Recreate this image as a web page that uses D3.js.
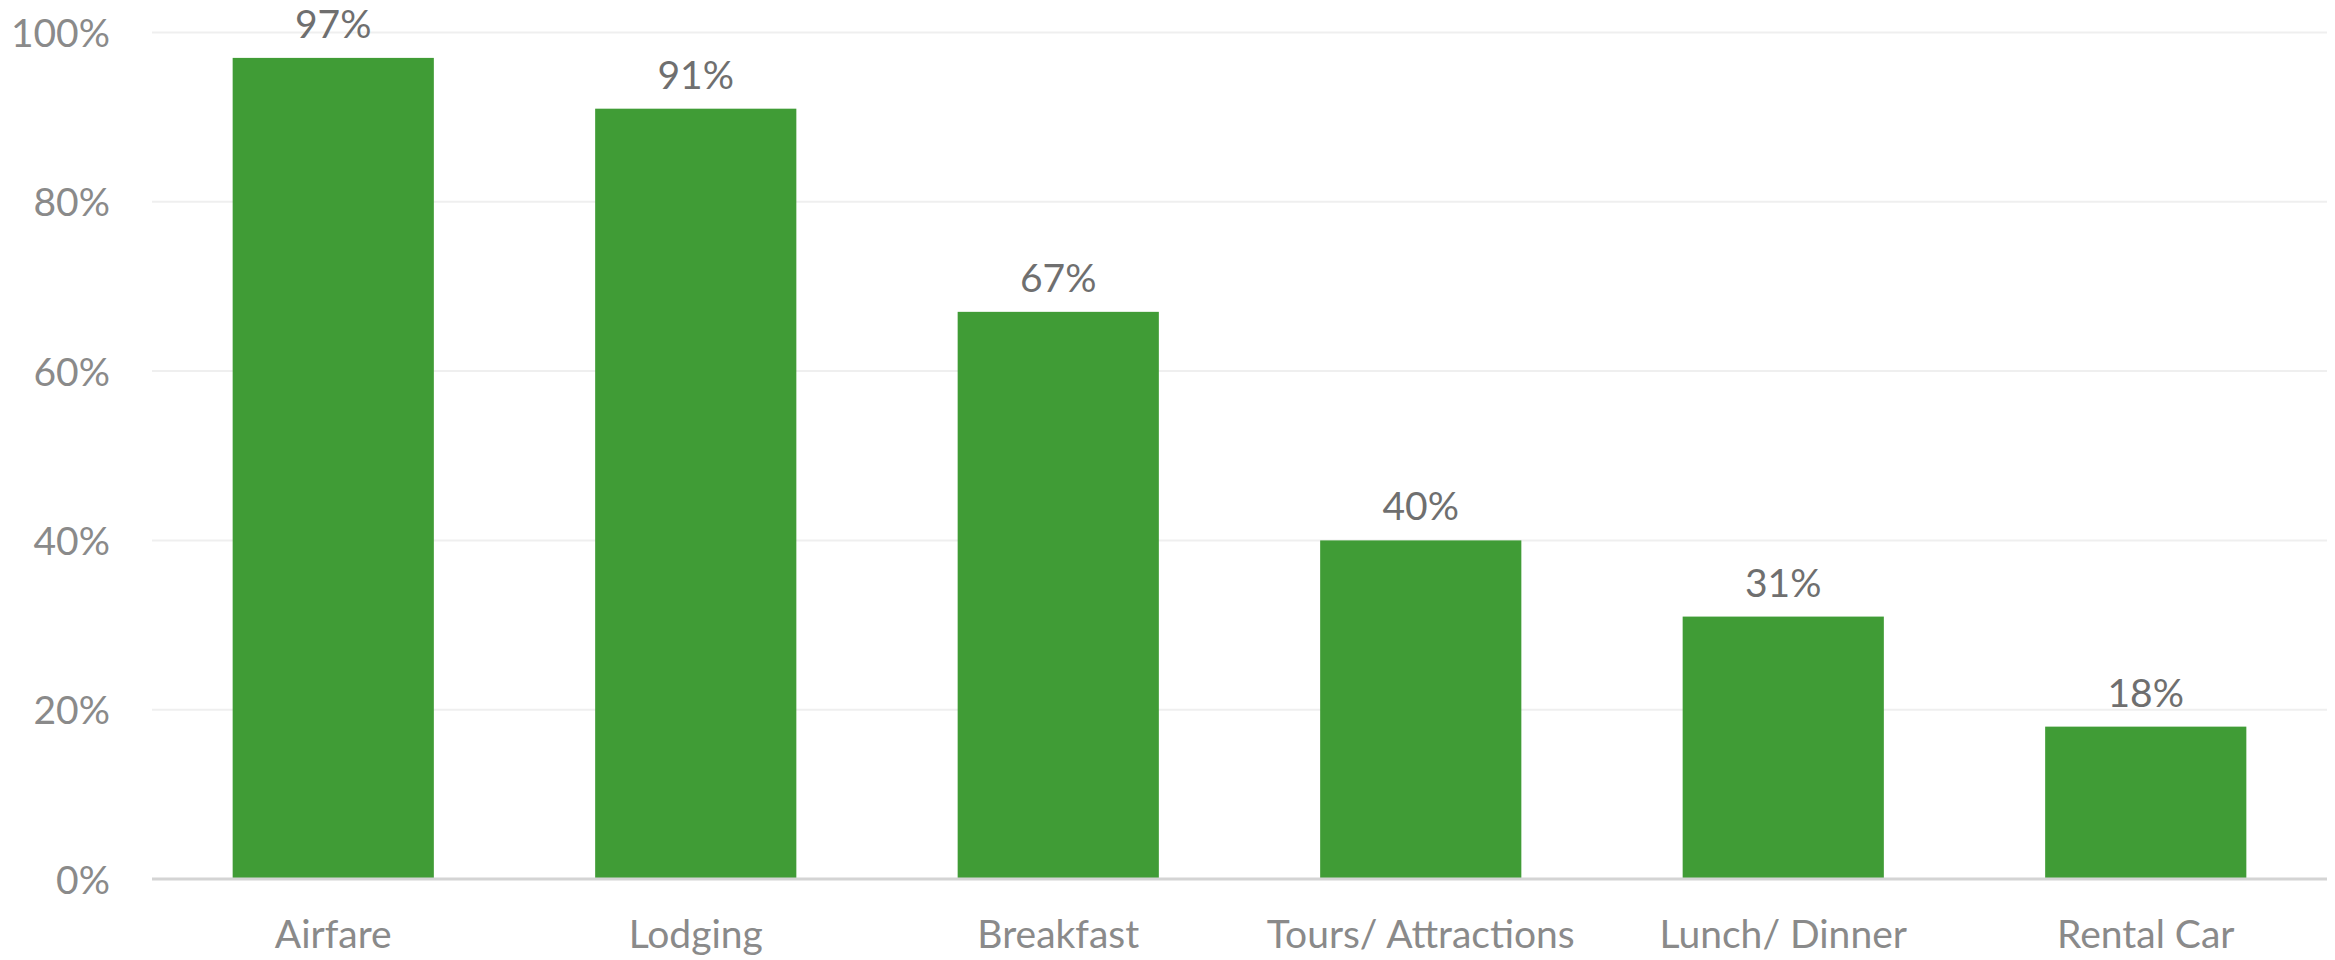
<!DOCTYPE html>
<html>
<head>
<meta charset="utf-8">
<script src="https://cdn.jsdelivr.net/npm/d3@7"></script>
<style>
  html, body { margin: 0; padding: 0; background: #ffffff; }
  svg { display: block; }
  text { font-family: Lato, "Open Sans", sans-serif; }
</style>
</head>
<body>
<svg id="chart" width="2335" height="960"></svg>
<script>
// Share of travellers who paid for each expense
const categories = ["Airfare", "Lodging", "Breakfast", "Tours/ Attractions", "Lunch/ Dinner", "Rental Car"];
const values = [97, 91, 67, 40, 31, 18];
const yTicks = [0, 20, 40, 60, 80, 100];

const width = 2335, height = 960;
const margin = { top: 32.5, right: 8, bottom: 81, left: 152 };
const fontSize = "39px";

const svg = d3.select("#chart");

const x = d3.scaleBand()
  .domain(categories)
  .range([margin.left, width - margin.right])
  .paddingInner(0.445)
  .paddingOuter(0.2225);

const y = d3.scaleLinear()
  .domain([0, 100])
  .range([height - margin.bottom, margin.top]);

// horizontal gridlines
svg.append("g")
  .selectAll("line")
  .data(yTicks.filter(d => d > 0))
  .join("line")
  .attr("x1", margin.left)
  .attr("x2", width - margin.right)
  .attr("y1", d => y(d))
  .attr("y2", d => y(d))
  .attr("stroke", "#efefef")
  .attr("stroke-width", 2);

// y axis labels
const yAxis = d3.axisLeft(y)
  .tickValues(yTicks)
  .tickFormat(d => d + "%")
  .tickSize(0)
  .tickPadding(42);

svg.append("g")
  .attr("transform", `translate(${margin.left},0)`)
  .call(yAxis)
  .call(g => g.select(".domain").remove())
  .call(g => g.selectAll("text")
    .attr("fill", "#8a8a8a")
    .style("font-size", fontSize)
    .attr("dy", "0.36em"));

// bars
svg.append("g")
  .selectAll("rect")
  .data(values)
  .join("rect")
  .attr("x", (d, i) => x(categories[i]))
  .attr("width", x.bandwidth())
  .attr("y", d => y(d))
  .attr("height", d => y(0) - y(d))
  .attr("fill", "#409c36");

// value labels
svg.append("g")
  .selectAll("text")
  .data(values)
  .join("text")
  .attr("x", (d, i) => x(categories[i]) + x.bandwidth() / 2)
  .attr("y", d => y(d) - 20)
  .attr("text-anchor", "middle")
  .attr("fill", "#6f6f6f")
  .style("font-size", fontSize)
  .text(d => d + "%");

// x axis
const xAxis = d3.axisBottom(x).tickSize(0).tickPadding(41);
svg.append("g")
  .attr("transform", `translate(0,${y(0)})`)
  .call(xAxis)
  .call(g => g.select(".domain").remove())
  .call(g => g.selectAll("text")
    .attr("fill", "#8a8a8a")
    .style("font-size", fontSize)
    .attr("dy", "0.71em"));

svg.append("line")
  .attr("x1", margin.left)
  .attr("x2", width - margin.right)
  .attr("y1", y(0))
  .attr("y2", y(0))
  .attr("stroke", "#d4d4d4")
  .attr("stroke-width", 3);
</script>
</body>
</html>
